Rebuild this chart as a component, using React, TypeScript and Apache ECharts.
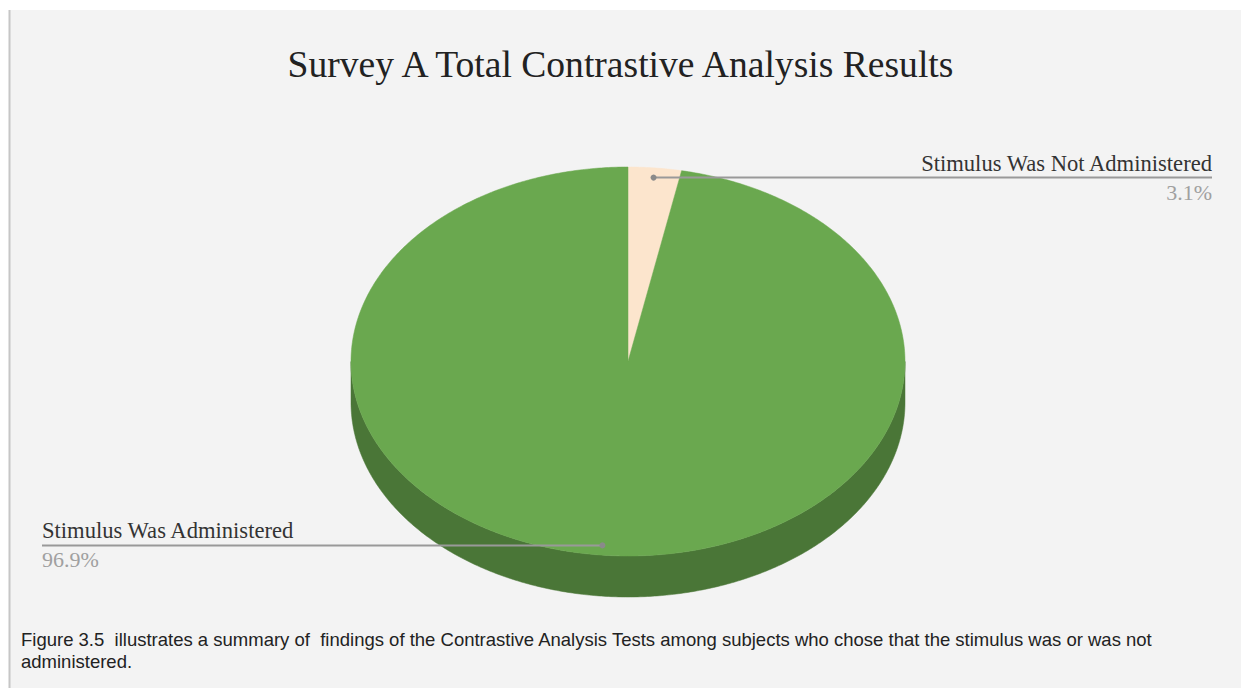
import React, { useEffect, useRef } from 'react';
import * as echarts from 'echarts';

const titleText = 'Survey A Total Contrastive Analysis Results';
const categories = ['Stimulus Was Not Administered', 'Stimulus Was Administered'];
const values = [3.1, 96.9];
const captionText =
  'Figure 3.5  illustrates a summary of  findings of the Contrastive Analysis Tests among subjects who chose that the stimulus was or was not\nadministered.';

const PIE = { cx: 628, cy: 361.5, rx: 277, ry: 194.5, depth: 41 };
const TOP_COLORS = ['#fce5cd', '#6aa84f'];
const SIDE_COLORS = ['#d9c4ae', '#4a7637'];
const LABEL_RIGHT_X = 1212;
const LABEL_LEFT_X = 42;

function pt(a: number, r: number, dy: number): number[] {
  return [PIE.cx + PIE.rx * r * Math.sin(a), PIE.cy - PIE.ry * r * Math.cos(a) + dy];
}
function arc(s: number, e: number, r: number, dy: number): number[][] {
  const n = Math.max(2, Math.ceil((e - s) / (Math.PI / 360)));
  const out: number[][] = [];
  for (let k = 0; k <= n; k++) out.push(pt(s + ((e - s) * k) / n, r, dy));
  return out;
}

function renderItem(params: any, api: any) {
  const i = params.dataIndex;
  const total = values.reduce((a, b) => a + b, 0);
  let before = 0;
  for (let j = 0; j < i; j++) before += values[j];
  const v = api.value(0);
  const a0 = (before / total) * Math.PI * 2;
  const a1 = ((before + v) / total) * Math.PI * 2;
  const children: any[] = [];

  // side wall (front half only)
  const s = Math.max(a0, Math.PI / 2);
  const e = Math.min(a1, (Math.PI * 3) / 2);
  if (e > s) {
    const top = arc(s, e, 1, 0);
    const bottom = arc(s, e, 1, PIE.depth).reverse();
    children.push({
      type: 'polygon',
      z2: 1,
      shape: { points: top.concat(bottom) },
      style: { fill: SIDE_COLORS[i], stroke: SIDE_COLORS[i], lineWidth: 0.5 },
    });
  }
  // top face
  children.push({
    type: 'polygon',
    z2: 2,
    shape: { points: [pt(0, 0, 0)].concat(arc(a0, a1, 1, 0)) },
    style: { fill: TOP_COLORS[i], stroke: TOP_COLORS[i], lineWidth: 0.5 },
  });

  // label
  const mid = (a0 + a1) / 2;
  const dot = pt(mid, 0.95, 0);
  const right = Math.sin(mid) >= 0;
  const endX = right ? LABEL_RIGHT_X : LABEL_LEFT_X;
  children.push({
    type: 'line',
    z2: 10,
    shape: { x1: dot[0], y1: dot[1], x2: endX, y2: dot[1] },
    style: { stroke: '#999999', lineWidth: 2 },
  });
  children.push({
    type: 'circle',
    z2: 11,
    shape: { cx: dot[0], cy: dot[1], r: 3 },
    style: { fill: '#8a8a8a' },
  });
  children.push({
    type: 'text',
    z2: 12,
    style: {
      text: categories[i],
      x: endX,
      y: dot[1] - 14.5,
      align: right ? 'right' : 'left',
      verticalAlign: 'middle',
      font: '22.6px "Liberation Serif"',
      fill: '#333333',
    },
  });
  children.push({
    type: 'text',
    z2: 12,
    style: {
      text: ((v / total) * 100).toFixed(1) + '%',
      x: endX,
      y: dot[1] + 14.5,
      align: right ? 'right' : 'left',
      verticalAlign: 'middle',
      font: '22px "Liberation Serif"',
      fill: '#a0a0a0',
    },
  });

  return { type: 'group', children };
}

export default function App() {
  const ref = useRef<HTMLDivElement>(null);
  useEffect(() => {
    if (!ref.current) return;
    const chart = echarts.init(ref.current, null, { renderer: 'svg' });
    chart.setOption({
      animation: false,
      backgroundColor: '#ffffff',
      title: {
        text: titleText,
        left: 'center',
        top: 40,
        textStyle: {
          fontFamily: 'Liberation Serif',
          fontSize: 37.6,
          lineHeight: 38,
          fontWeight: 'normal',
          color: '#222222',
        },
      },
      graphic: [
        {
          type: 'rect',
          z: -10,
          shape: { x: 10, y: 10, width: 1231, height: 678 },
          style: { fill: '#f3f3f3' },
        },
        {
          type: 'line',
          z: -9,
          shape: { x1: 9.5, y1: 10, x2: 9.5, y2: 688 },
          style: { stroke: '#c6c6c6', lineWidth: 2 },
        },
        {
          type: 'text',
          z: 10,
          style: {
            text: captionText,
            x: 21,
            y: 628.5,
            verticalAlign: 'top',
            lineHeight: 22,
            font: '18.5px "Liberation Sans"',
            fill: '#222222',
          },
        },
      ],
      series: [
        {
          type: 'custom',
          coordinateSystem: 'none',
          silent: true,
          renderItem,
          data: values.map((v, i) => ({ name: categories[i], value: v })),
        },
      ],
    });
    return () => chart.dispose();
  }, []);
  return (
    <div
      ref={ref}
      style={{ position: 'fixed', left: 0, top: 0, width: 1241, height: 688 }}
    />
  );
}
